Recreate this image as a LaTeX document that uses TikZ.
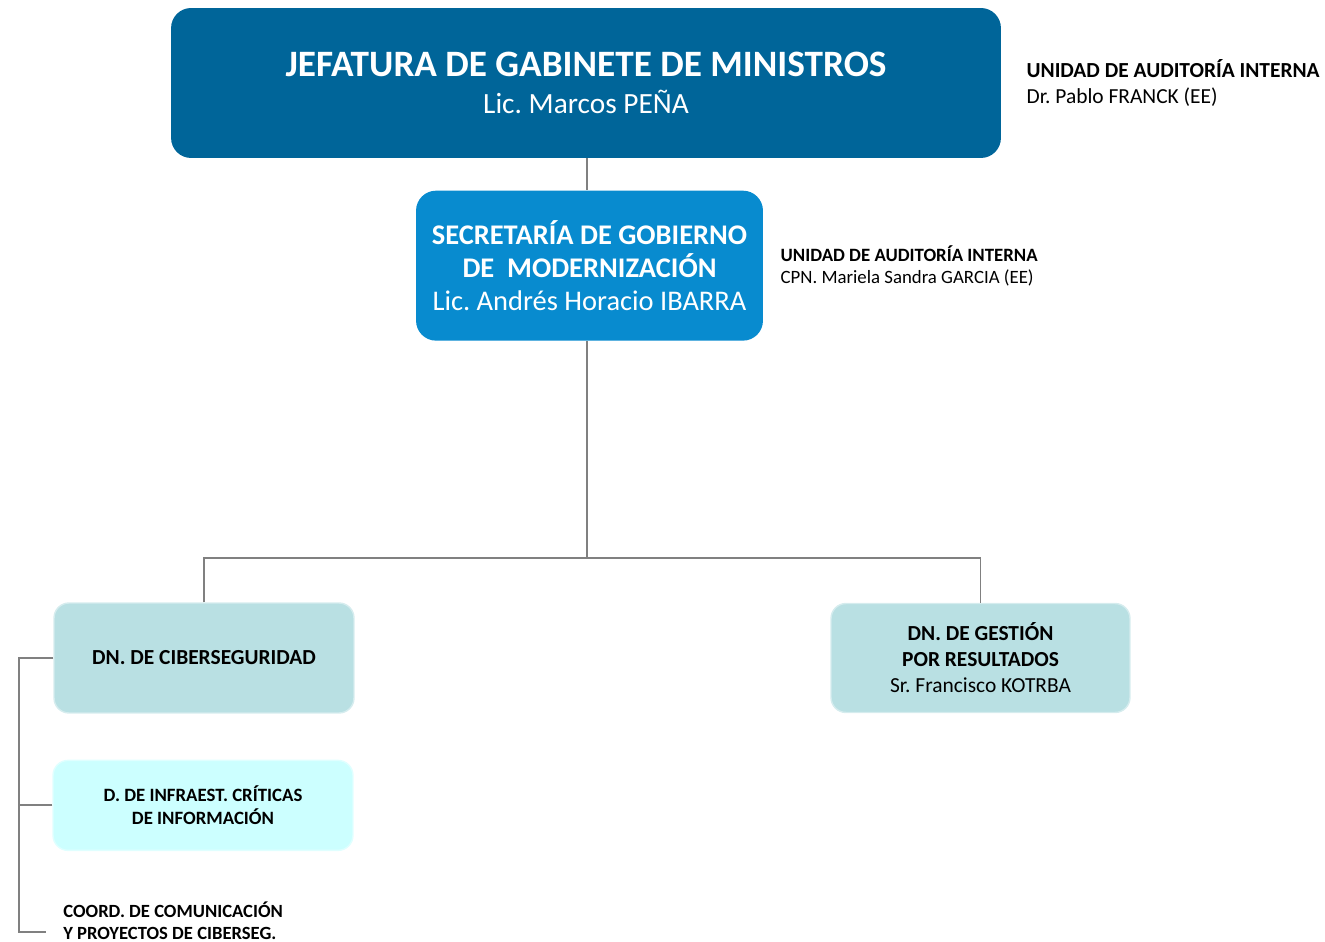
\documentclass[tikz,border=0pt]{standalone}
\usepackage{fontspec}
\setmainfont{Carlito}
\frenchspacing
\usetikzlibrary{positioning}

\definecolor{jgmblue}{RGB}{0,101,153}
\definecolor{sgmblue}{RGB}{8,139,207}
\definecolor{dnteal}{RGB}{185,224,227}
\definecolor{dcyan}{RGB}{204,255,255}
\definecolor{linegray}{RGB}{128,128,128}

\tikzset{
    orgbox/.style={rounded corners=20*0.02cm, align=center, inner sep=0pt},
    dnbox/.style={orgbox, rounded corners=15*0.02cm, fill=dnteal, draw=dnteal!60!white, line width=0.8pt},
    link/.style={draw=linegray, line width=1.1pt},
    note/.style={align=left, inner sep=0pt, anchor=west}
}

\begin{document}
\begin{tikzpicture}[x=0.02cm, y=-0.02cm]
            \useasboundingbox (0,0) rectangle (1325,942);

            \node[orgbox, fill=jgmblue, text=white, minimum width=16.6cm, minimum height=3cm,
                  font=\fontsize{21.2}{21}\selectfont] (jgm) at (586,83)
                {\bfseries JEFATURA DE GABINETE DE MINISTROS\\
                 \fontsize{16.7}{21}\selectfont Lic. Marcos PEÑA};
            \node[orgbox, fill=sgmblue, text=white, minimum width=6.94cm, minimum height=3cm,
                  font=\fontsize{16.2}{19}\selectfont, below=0.64cm of jgm, xshift=0.07cm] (sgm)
                {\bfseries SECRETARÍA DE GOBIERNO\\
                 \bfseries DE\ \ MODERNIZACIÓN\\
                 Lic. Andrés Horacio IBARRA};

            \node[note, font=\fontsize{12.2}{14.8}\selectfont, right=0.5cm of jgm.east] (uai1)
                {\textbf{UNIDAD DE AUDITORÍA INTERNA}\\ Dr. Pablo FRANCK (EE)};
            \node[note, font=\fontsize{10.7}{12.5}\selectfont, right=0.34cm of sgm.east] (uai2)
                {\textbf{UNIDAD DE AUDITORÍA INTERNA}\\ CPN. Mariela Sandra GARCIA (EE)};

            \node[dnbox, minimum width=6cm, minimum height=2.2cm, font=\fontsize{12.2}{14.8}\selectfont\bfseries] (cib) at (204,658)
                {DN. DE CIBERSEGURIDAD};
            \node[dnbox, minimum width=5.98cm, minimum height=2.18cm, font=\fontsize{12.2}{14.8}\selectfont] (gest) at (980.5,658)
                {\textbf{DN. DE GESTIÓN}\\ \textbf{POR RESULTADOS}\\ Sr. Francisco KOTRBA};
            \node[dnbox, fill=dcyan, draw=dcyan!60!white, minimum width=6cm, minimum height=1.8cm,
                  font=\fontsize{10.7}{13}\selectfont\bfseries, below=0.92cm of cib, xshift=-0.02cm] (infra)
                {D. DE INFRAEST. CRÍTICAS\\ DE INFORMACIÓN};
            \node[note, font=\fontsize{10.6}{12.5}\selectfont\bfseries] (coord) at (63,921)
                {COORD. DE COMUNICACIÓN\\ Y PROYECTOS DE CIBERSEG.};

            \coordinate (hub) at (587,558);
            \coordinate (brk) at (19,932);
            \coordinate (coordend) at (46,932);

            \draw[link]
            (jgm.south -| hub) edge (sgm.north -| hub)
            (sgm.south -| hub) edge (hub)
            (cib.north) |- (hub) -| (gest.north);
            \draw[link] (cib.west) -- (cib.west -| brk) -- (brk) -- (coordend);
            \draw[link] (infra.west) -- (infra.west -| brk);
        \end{tikzpicture}
\end{document}
